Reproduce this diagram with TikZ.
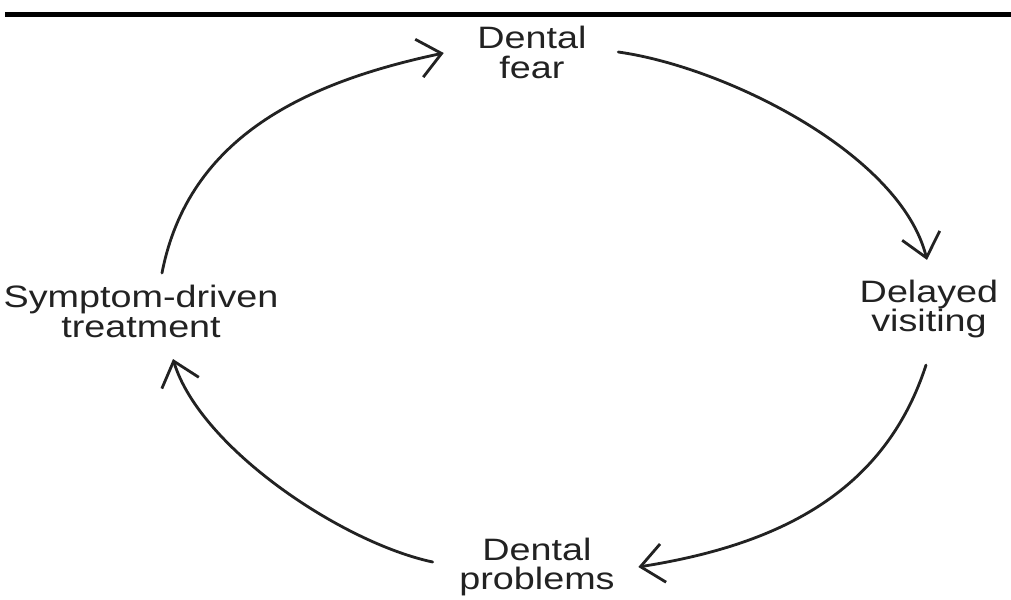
\documentclass[tikz,border=0pt]{standalone}
\usepackage{fontspec}
\newfontfamily\lblfont[FakeStretch=1.22]{Liberation Sans}
\usetikzlibrary{arrows.meta}
\definecolor{inkgray}{HTML}{222222}

\begin{document}
\begin{tikzpicture}[x=0.01cm, y=-0.01cm, font=\lblfont\fontsize{8.8}{8.5}\selectfont]
    \tikzstyle{stage} = [inner sep=0pt, align=center, text=inkgray]
    \tikzstyle{loopline} = [-{Straight Barb[length=6.5pt, width=11pt]}, line width=0.8pt,
      line cap=round, line join=round, inkgray]

    \useasboundingbox (0,0) rectangle (1011,600);
    % rule across the top
    \fill[black] (5,12) rectangle (1011,17);

    \node (fear) [stage] at (532,52) {Dental\\fear};
    \node (delayed) [stage] at (929,309) {Delayed\\visiting};
    \node (problems) [stage] at (537,567) {Dental\\problems};
    \node (symptom) [stage] at (141,311) {Symptom-driven\\treatment};

    \draw [loopline] ([shift={(21,-11)}]symptom.north) to[out=79, in=192, looseness=1.0]
      ([shift={(-33,1)}]fear.west);
    \draw [loopline] ([shift={(31,0)}]fear.east) to[out=-8, in=104, looseness=0.75]
      ([shift={(-2,-19)}]delayed.north);
    \draw [loopline] ([shift={(-3,26)}]delayed.south) to[out=252, in=9, looseness=1.0]
      ([shift={(23,0)}]problems.east);
    \draw [loopline] ([shift={(-26,-5)}]problems.west) to[out=168, in=287, looseness=0.72]
      ([shift={(32,21)}]symptom.south);
\end{tikzpicture}
\end{document}
